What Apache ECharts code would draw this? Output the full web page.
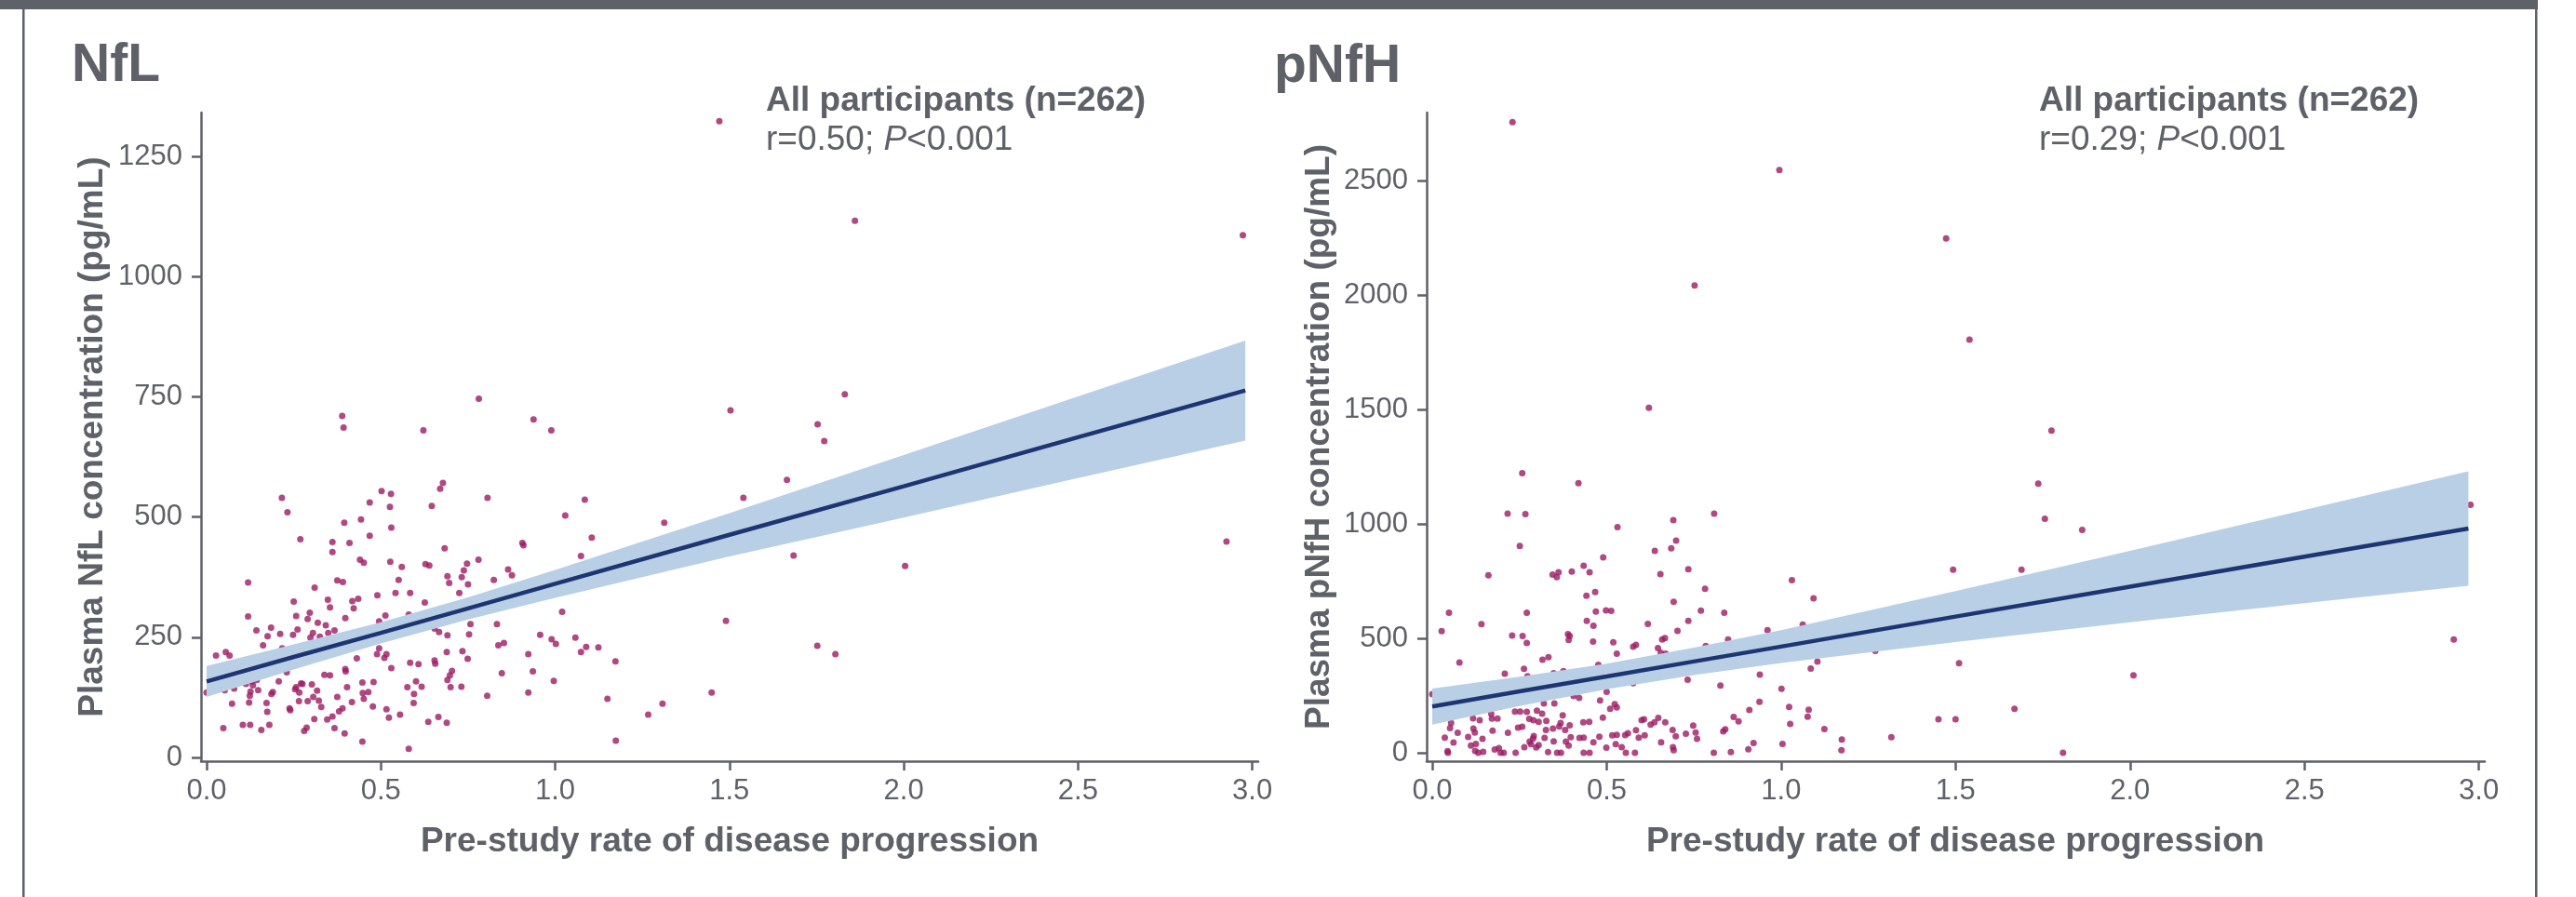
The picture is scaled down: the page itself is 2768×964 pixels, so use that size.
<!DOCTYPE html>
<html>
<head>
<meta charset="utf-8">
<script src="https://cdn.jsdelivr.net/npm/echarts@6/dist/echarts.min.js"></script>
<style>
html,body{margin:0;padding:0;background:#fff;}
#chart{width:2768px;height:964px;}
</style>
</head>
<body>
<div id="chart"></div>
<script>
// ---------- DATA ----------
var xTicks = [0, 0.5, 1, 1.5, 2, 2.5, 3];
var nflYTicks = [0, 250, 500, 750, 1000, 1250];
var pnfhYTicks = [0, 500, 1000, 1500, 2000, 2500];

var nflX = [0.395,0.443,0.530,0.269,1.105,0.361,0.410,0.468,0.361,0.683,0.906,0.909,1.074,0.440,0.451,0.527,0.560,0.628,0.639,0.780,
0.747,0.738,0.732,0.691,0.696,0.750,0.824,0.865,0.876,0.551,0.375,0.391,0.119,0.310,0.542,0.584,0.490,0.725,0.435,0.418,
0.422,0.348,0.354,0.250,0.626,1.020,0.119,0.257,0.296,0.290,0.398,0.513,0.580,0.495,0.319,0.342,0.757,0.833,0.185,0.143,
0.261,0.248,0.305,0.298,0.325,0.349,0.367,0.211,0.175,0.654,0.667,0.691,0.753,0.957,1.058,0.990,0.217,0.162,0.837,0.853,
1.002,1.089,1.074,1.124,0.495,0.489,0.516,0.510,0.734,0.689,0.749,0.923,0.027,0.055,0.066,0.431,1.173,0.584,0.608,0.654,
0.656,0.530,0.398,0.399,0.230,0.704,0.698,0.691,0.936,0.847,0.338,0.354,0.447,0.479,0.601,0.996,0.207,0.113,0.130,0.144,
0.133,0.271,0.275,0.302,0.257,0.266,0.576,0.617,0.700,0.731,0.403,0.464,0.448,0.451,0.079,0.052,0.000,0.126,0.124,0.148,
0.190,0.186,0.254,0.317,0.595,0.923,0.805,0.073,0.122,0.172,0.174,0.265,0.290,0.306,0.322,0.329,0.375,0.417,0.594,1.150,
0.238,0.240,0.390,0.380,0.477,0.516,0.523,0.555,1.267,0.104,0.125,0.180,0.157,0.048,0.287,0.280,0.309,0.346,0.361,0.367,
0.396,0.636,0.665,0.689,0.447,1.174,0.580,
0.216,0.232,0.389,0.393,0.781,0.622,0.938,0.989,0.678,0.670,0.646,0.806,0.502,0.529,0.468,0.526,1.029,1.085,
1.313,1.684,2.004,2.926,1.490,1.752,1.804,1.308,1.449,
1.471,1.860,2.973,1.503,1.831,1.753,1.772,1.665,1.540];
var nflY = [488,495,478,454,457,448,446,461,427,435,446,441,419,411,405,407,396,402,399,411,
403,389,375,377,363,360,369,391,379,369,368,365,364,353,342,342,337,342,330,325,
310,328,312,324,322,303,293,294,301,288,290,295,297,283,280,275,277,277,270,264,
266,255,259,249,251,259,264,257,252,268,261,254,256,255,249,246,227,233,233,238,
236,230,219,229,227,215,215,207,221,219,205,215,212,219,212,206,200,197,194,202,
195,186,184,179,177,180,171,161,179,175,172,171,156,157,158,159,158,153,158,161,
150,154,153,152,146,135,146,147,146,147,146,136,134,122,143,140,135,137,128,140,
136,132,142,139,132,135,128,112,114,113,95,117,117,126,118,105,126,115,113,122,
102,98,102,96,106,100,83,89,89,68,68,68,57,61,62,55,80,79,85,61,
50,74,84,72,33,35,18,
540,510,710,686,746,680,703,680,571,559,523,540,554,548,530,521,503,536,
488,420,398,449,284,232,215,112,135,
1323,1116,1086,722,755,693,658,577,540];

var pnfhX = [0.251,0.699,0.638,0.685,0.490,0.161,0.345,0.357,0.362,0.400,0.434,0.451,0.654,0.734,1.031,0.782,0.442,0.467,0.692,1.093,
0.048,0.271,0.469,0.498,0.513,0.770,0.837,0.443,0.462,0.734,0.141,0.618,1.062,0.027,0.703,0.961,0.229,0.259,0.389,0.394,
0.391,0.461,0.271,0.519,0.659,0.667,0.848,0.584,0.576,0.647,0.655,0.669,0.529,0.784,1.270,0.316,0.333,0.078,0.476,1.104,
0.263,1.085,0.208,0.273,0.348,0.376,0.395,0.939,0.732,0.576,0.826,1.001,0.500,0.000,0.405,0.421,0.481,0.320,0.350,0.938,
0.523,0.529,0.510,1.023,1.079,1.076,0.237,0.252,0.271,0.300,0.315,0.374,0.169,0.171,0.187,0.117,0.136,0.278,0.290,0.305,
0.327,0.489,0.864,0.878,0.054,0.051,0.258,0.246,0.368,0.364,0.394,0.433,0.450,0.600,0.607,0.626,0.637,0.648,0.668,1.026,
0.584,0.118,0.122,0.073,0.173,0.217,0.326,0.346,0.381,0.748,0.909,1.124,0.689,0.834,0.840,1.316,0.036,0.103,0.144,0.291,
0.289,0.322,0.348,0.397,0.422,0.434,0.479,0.529,0.516,0.561,0.553,0.592,0.609,0.698,0.727,0.755,0.759,0.061,0.111,0.125,
0.146,0.123,0.179,0.191,0.196,0.205,0.239,0.264,0.279,0.283,0.298,0.305,0.332,0.358,0.369,0.383,0.391,0.434,0.451,0.462,
0.499,0.526,0.543,0.555,0.581,0.656,0.690,0.692,0.807,0.856,0.906,0.921,1.004,1.174,1.173,0.044,0.045,0.132,
0.230,0.995,0.752,0.621,0.258,0.419,0.216,0.267,0.808,0.691,0.531,
1.493,1.689,1.510,2.010,2.928,1.451,1.500,1.669,1.808,
1.473,1.540,1.775,1.737,1.756,1.863,2.976];
var pnfhY = [904,927,882,893,854,775,779,767,789,792,817,789,781,802,754,717,686,702,660,675,
612,612,617,622,620,621,612,576,555,576,562,563,560,532,533,536,512,510,518,510,
493,486,480,483,495,501,495,472,463,457,437,433,433,467,445,407,418,394,384,398,
367,368,346,334,348,357,348,341,319,304,294,279,266,256,248,240,229,215,215,223,
212,198,192,200,188,158,180,180,179,184,171,164,171,149,149,150,142,148,142,135,
139,153,157,137,130,108,114,110,130,115,120,133,135,142,146,123,133,152,133,126,
99,106,88,87,97,87,100,106,100,119,187,104,100,93,103,68,66,69,61,73,
62,65,50,68,65,66,70,78,76,85,77,66,76,72,83,88,61,45,32,39,
4,8,14,20,0,0,0,24,49,38,23,34,3,0,0,49,31,0,0,46,
22,38,24,0,0,46,24,11,0,3,15,43,39,58,11,7,0,0,
2755,2546,2042,1507,1222,1178,1045,1043,1045,1016,986,
800,800,391,338,495,146,146,192,0,
2247,1805,1408,1176,1022,974,1083];

// regression fit and 95% confidence band read at these x positions
var nflBandX = [0, 0.25, 0.5, 0.75, 1.0, 1.5, 2.0, 2.5, 2.98];
var nflFit   = [158, 209, 259, 310, 361, 463, 564, 666, 763];
var nflLower = [126, 183, 237, 287, 332, 418, 499, 581, 659];
var nflUpper = [190, 235, 281, 333, 390, 508, 629, 751, 867];

var pnfhBandX = [0, 0.25, 0.5, 0.75, 1.0, 1.5, 2.0, 2.5, 2.97];
var pnfhFit   = [202, 268, 333, 399, 464, 595, 726, 857, 980];
var pnfhLower = [123, 204, 277, 339, 392, 484, 570, 653, 730];
var pnfhUpper = [281, 332, 389, 459, 536, 706, 882, 1061, 1230];

// ---------- STYLE ----------
var GREY = '#5f6168';
var POINT = '#9c1b63';
var LINE = '#1f3572';
var BAND = '#b8cfe6';
var FONT = "'Liberation Sans', Arial, Helvetica, sans-serif";

function pairs(xs, ys) { return xs.map(function (x, i) { return [x, ys[i]]; }); }

function bandSeries(idx, bx, lo, up) {
  return {
    type: 'custom', xAxisIndex: idx, yAxisIndex: idx, z: 3, silent: true,
    data: [[bx[0], lo[0]]],
    renderItem: function (params, api) {
      var pts = [];
      for (var i = 0; i < bx.length; i++) pts.push(api.coord([bx[i], up[i]]));
      for (var j = bx.length - 1; j >= 0; j--) pts.push(api.coord([bx[j], lo[j]]));
      return { type: 'polygon', shape: { points: pts }, style: { fill: BAND } };
    }
  };
}

function xAxisDef(idx) {
  return {
    type: 'value', gridIndex: idx, min: -0.016, max: 3.017,
    splitLine: { show: false },
    axisLine: { show: true, onZero: false, lineStyle: { color: GREY, width: 2.5 } },
    axisTick: { show: true, length: 10, customValues: xTicks, lineStyle: { color: GREY, width: 2.5 } },
    axisLabel: { customValues: xTicks, margin: 17, fontSize: 31, color: GREY, fontFamily: FONT,
      formatter: function (v) { return v.toFixed(1); } }
  };
}
function yAxisDef(idx, min, max, ticks) {
  return {
    type: 'value', gridIndex: idx, min: min, max: max,
    splitLine: { show: false },
    axisLine: { show: true, onZero: false, lineStyle: { color: GREY, width: 2.5 } },
    axisTick: { show: true, length: 10, customValues: ticks, lineStyle: { color: GREY, width: 2.5 } },
    axisLabel: { customValues: ticks, margin: 20, fontSize: 31, color: GREY, fontFamily: FONT,
      formatter: function (v) { return String(Math.round(v)); } }
  };
}

function txt(x, y, text, size, bold, align, rot) {
  return {
    type: 'text', x: x, y: y, rotation: rot || 0, z: 10,
    style: { text: text, x: 0, y: 0, fill: GREY, align: align || 'left', verticalAlign: 'middle',
      font: (bold ? 'bold ' : '') + size + 'px ' + FONT }
  };
}
function statTxt(x, y, text) {
  return {
    type: 'text', x: x, y: y, z: 10,
    style: { text: text, x: 0, y: 0, fill: GREY, align: 'left', verticalAlign: 'middle',
      font: '37px ' + FONT,
      rich: { i: { fontStyle: 'italic', fontSize: 37, fontFamily: FONT, fill: GREY, color: GREY } } }
  };
}

var chart = echarts.init(document.getElementById('chart'), null, { renderer: 'canvas' });
chart.setOption({
  animation: false,
  backgroundColor: '#ffffff',
  grid: [
    { left: 216, top: 121, width: 1136, height: 697 },
    { left: 1533, top: 121, width: 1137, height: 697 }
  ],
  xAxis: [xAxisDef(0), xAxisDef(1)],
  yAxis: [yAxisDef(0, -7.7, 1341, nflYTicks), yAxisDef(1, -36.6, 2797, pnfhYTicks)],
  series: [
    { type: 'scatter', xAxisIndex: 0, yAxisIndex: 0, z: 2, symbol: 'circle', symbolSize: 7,
      itemStyle: { color: POINT }, data: pairs(nflX, nflY) },
    bandSeries(0, nflBandX, nflLower, nflUpper),
    { type: 'line', xAxisIndex: 0, yAxisIndex: 0, z: 4, symbol: 'none',
      lineStyle: { color: LINE, width: 4.5 }, data: pairs(nflBandX, nflFit) },
    { type: 'scatter', xAxisIndex: 1, yAxisIndex: 1, z: 2, symbol: 'circle', symbolSize: 7,
      itemStyle: { color: POINT }, data: pairs(pnfhX, pnfhY) },
    bandSeries(1, pnfhBandX, pnfhLower, pnfhUpper),
    { type: 'line', xAxisIndex: 1, yAxisIndex: 1, z: 4, symbol: 'none',
      lineStyle: { color: LINE, width: 4.5 }, data: pairs(pnfhBandX, pnfhFit) }
  ],
  graphic: [
    { type: 'rect', shape: { x: 0, y: 0, width: 2727, height: 10 }, style: { fill: GREY } },
    { type: 'rect', shape: { x: 24, y: 10, width: 2.5, height: 954 }, style: { fill: GREY } },
    { type: 'rect', shape: { x: 2724, y: 0, width: 2.5, height: 964 }, style: { fill: GREY } },
    txt(77, 71, 'NfL', 57, true),
    txt(1369, 72, 'pNfH', 57, true),
    txt(823, 109, 'All participants (n=262)', 37, true),
    statTxt(823, 151, 'r=0.50; {i|P}<0.001'),
    txt(2191, 109, 'All participants (n=262)', 37, true),
    statTxt(2191, 151, 'r=0.29; {i|P}<0.001'),
    txt(784, 905, 'Pre-study rate of disease progression', 37, true, 'center'),
    txt(2101, 905, 'Pre-study rate of disease progression', 37, true, 'center'),
    txt(100, 469.5, 'Plasma NfL concentration (pg/mL)', 37, true, 'center', Math.PI / 2),
    txt(1418, 469.5, 'Plasma pNfH concentration (pg/mL)', 37, true, 'center', Math.PI / 2)
  ]
});
</script>
</body>
</html>
